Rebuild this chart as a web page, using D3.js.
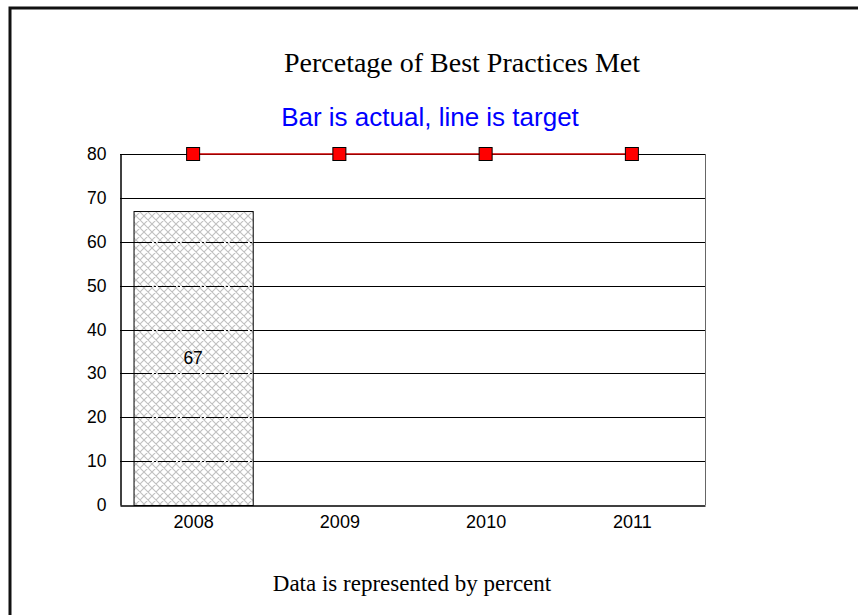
<!DOCTYPE html>
<html>
<head>
<meta charset="utf-8">
<script src="https://cdn.jsdelivr.net/npm/d3@7"></script>
<style>
  html, body { margin: 0; padding: 0; background: #fff; overflow: hidden; }
  svg { display: block; }
</style>
</head>
<body>
<svg id="chart" width="858" height="615"></svg>
<script>
// Chart data
const years = ["2008", "2009", "2010", "2011"];
const actual = [67, null, null, null];
const target = [80, 80, 80, 80];
const yTicks = [0, 10, 20, 30, 40, 50, 60, 70, 80];

const svg = d3.select("#chart");
const W = 858, H = 615;
const sans = "Liberation Sans, Arial, sans-serif";
const serif = "Liberation Serif, Times New Roman, serif";

// Slide frame
svg.append("rect")
  .attr("x", 10).attr("y", 8)
  .attr("width", W).attr("height", H)
  .attr("fill", "#fff")
  .attr("stroke", "#111").attr("stroke-width", 3);

// Cross-hatch fill for bars
const defs = svg.append("defs");
const pat = defs.append("pattern")
  .attr("id", "hatch")
  .attr("patternUnits", "userSpaceOnUse")
  .attr("width", 8).attr("height", 8);
pat.append("rect").attr("width", 8).attr("height", 8).attr("fill", "#fff");
pat.append("path")
  .attr("d", "M0,0 L8,8 M8,0 L0,8 M-1,7 L1,9 M7,-1 L9,1 M-1,1 L1,-1 M7,9 L9,7")
  .attr("stroke", "#c0c0c0").attr("stroke-width", 1.1);

const plot = { left: 120, right: 705, top: 154, bottom: 505 };

const x = d3.scaleBand()
  .domain(years)
  .range([plot.left, plot.right])
  .paddingInner(0.185).paddingOuter(0.0925);

const xc = d3.scalePoint()
  .domain(years)
  .range([plot.left, plot.right])
  .padding(0.5);

const y = d3.scaleLinear()
  .domain([0, 80])
  .range([plot.bottom, plot.top]);

// Horizontal gridlines
svg.append("g")
  .selectAll("line")
  .data(yTicks.filter(d => d > 0))
  .join("line")
  .attr("x1", plot.left).attr("x2", plot.right)
  .attr("y1", d => Math.round(y(d)) + 0.5).attr("y2", d => Math.round(y(d)) + 0.5)
  .attr("stroke", "#000").attr("stroke-width", 1);

// Right border of plot area
svg.append("line")
  .attr("x1", plot.right + 0.5).attr("x2", plot.right + 0.5)
  .attr("y1", y(80)).attr("y2", y(0))
  .attr("stroke", "#666").attr("stroke-width", 1);

// Bars (actual)
const barData = years.map((yr, i) => ({ yr, v: actual[i] })).filter(d => d.v != null);
svg.append("g")
  .selectAll("rect")
  .data(barData)
  .join("rect")
  .attr("x", d => x(d.yr) + 0.5)
  .attr("y", d => y(d.v) + 0.5)
  .attr("width", x.bandwidth())
  .attr("height", d => y(0) - y(d.v))
  .attr("fill", "url(#hatch)")
  .attr("stroke", "#000").attr("stroke-width", 1);

// Gridlines run through the bar as broken lines
svg.append("g")
  .selectAll("line")
  .data(barData.flatMap(b => yTicks.filter(t => t > 0 && t < b.v).map(t => ({ b, t }))))
  .join("line")
  .attr("x1", d => x(d.b.yr) + 0.5).attr("x2", d => x(d.b.yr) + x.bandwidth() + 0.5)
  .attr("y1", d => Math.round(y(d.t)) + 0.5).attr("y2", d => Math.round(y(d.t)) + 0.5)
  .attr("stroke", "#000").attr("stroke-width", 1)
  .attr("stroke-dasharray", "18,2,2,2");

// Bar value labels
svg.append("g")
  .selectAll("text")
  .data(barData)
  .join("text")
  .attr("x", d => x(d.yr) + x.bandwidth() / 2)
  .attr("y", d => y(d.v / 2) + 6)
  .attr("text-anchor", "middle")
  .attr("font-family", sans)
  .attr("font-size", 17.5)
  .attr("fill", "#000")
  .text(d => d.v);

// Axes
const yAxis = svg.append("g")
  .attr("transform", `translate(${plot.left + 0.5},0)`)
  .call(d3.axisLeft(y).tickValues(yTicks).tickSize(0).tickPadding(14));
yAxis.select(".domain").attr("stroke", "#000").attr("stroke-width", 1.5);
yAxis.selectAll("text")
  .attr("font-family", sans)
  .attr("font-size", 17.5).attr("fill", "#000");

const xAxis = svg.append("g")
  .attr("transform", `translate(0,${plot.bottom + 0.5})`)
  .call(d3.axisBottom(xc).tickSize(0).tickPadding(10));
xAxis.select(".domain").attr("stroke", "#000").attr("stroke-width", 1.5);
xAxis.selectAll("text")
  .attr("font-family", sans)
  .attr("font-size", 18).attr("fill", "#000");

// Target line with square markers
const line = d3.line().x((d, i) => xc(years[i])).y(d => y(d));
svg.append("path")
  .datum(target)
  .attr("d", line)
  .attr("fill", "none")
  .attr("stroke", "#cc0000").attr("stroke-width", 1.5);

svg.append("g")
  .selectAll("rect")
  .data(target)
  .join("rect")
  .attr("x", (d, i) => xc(years[i]) - 6.5)
  .attr("y", d => y(d) - 6.5)
  .attr("width", 13).attr("height", 13)
  .attr("fill", "#ff0000")
  .attr("stroke", "#000").attr("stroke-width", 1);

// Titles
svg.append("text")
  .attr("x", 462).attr("y", 72)
  .attr("text-anchor", "middle")
  .attr("font-family", serif)
  .attr("font-size", 28).attr("fill", "#000")
  .text("Percetage of Best Practices Met");

svg.append("text")
  .attr("x", 430).attr("y", 126)
  .attr("text-anchor", "middle")
  .attr("font-family", sans)
  .attr("font-size", 26).attr("fill", "#0000ff")
  .text("Bar is actual, line is target");

svg.append("text")
  .attr("x", 412).attr("y", 591)
  .attr("text-anchor", "middle")
  .attr("font-family", serif)
  .attr("font-size", 23).attr("fill", "#000")
  .text("Data is represented by percent");
</script>
</body>
</html>
